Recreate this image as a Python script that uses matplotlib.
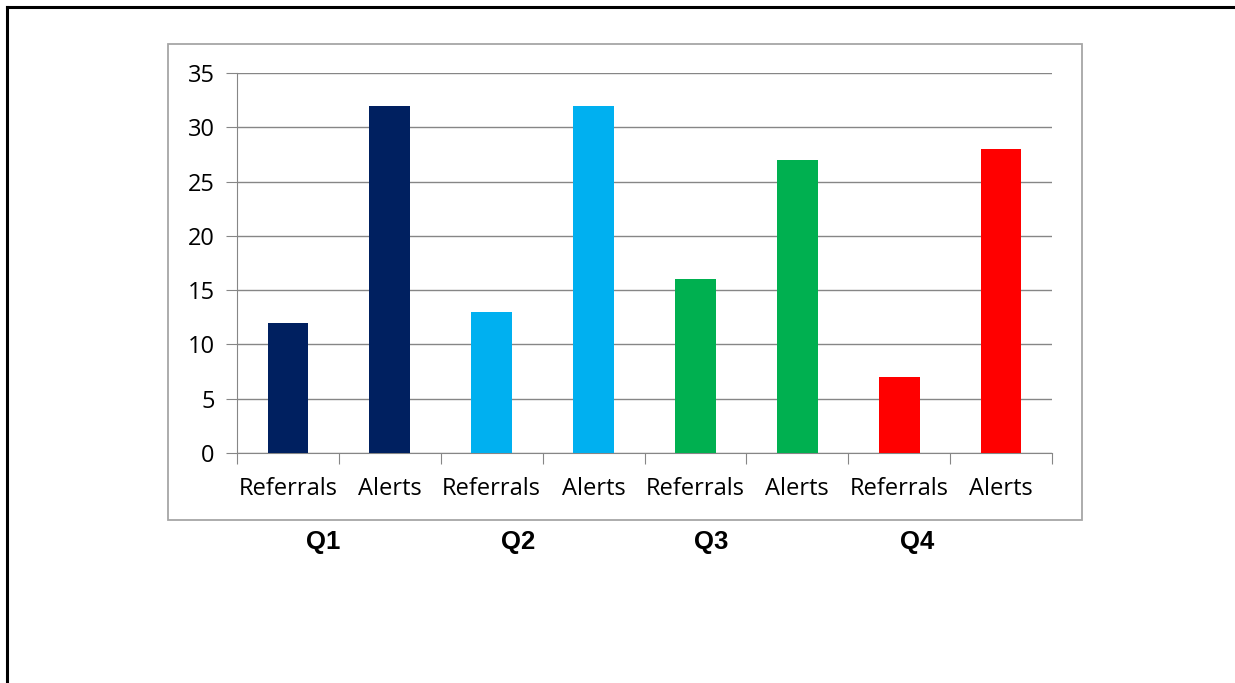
import matplotlib.pyplot as plt
from matplotlib.lines import Line2D
from matplotlib.patches import Rectangle
import numpy as np

# data
categories = ['Referrals', 'Alerts'] * 4
values = [12, 32, 13, 32, 16, 27, 7, 28]
quarters = ['Q1', 'Q2', 'Q3', 'Q4']
colours = ['#002060', '#002060', '#00B0F0', '#00B0F0',
           '#00B050', '#00B050', '#FF0000', '#FF0000']
yticks = [0, 5, 10, 15, 20, 25, 30, 35]

W, H = 1235, 683
fig = plt.figure(figsize=(W / 100, H / 100), dpi=100)

def fx(px):
    return px / W

def fy(py):
    return 1 - py / H

# outer frame (top and left only)
fig.add_artist(Line2D([fx(7), fx(7)], [fy(7), 0], color='black', lw=2.2))
fig.add_artist(Line2D([fx(7), 1], [fy(7), fy(7)], color='black', lw=2.2))

# chart box
fig.add_artist(Rectangle((fx(168), fy(520)), fx(1082) - fx(168), fy(44) - fy(520),
                         fill=False, edgecolor='#A6A6A6', lw=1.3))

ax = fig.add_axes([fx(237), fy(453), fx(1052) - fx(237), fy(73) - fy(453)])
x = np.arange(len(values)) + 0.5
ax.bar(x, values, width=0.4, color=colours, zorder=3)

ax.set_xlim(0, 8)
ax.set_ylim(0, 35)
ax.set_yticks(yticks)
ax.yaxis.grid(True, color='#868686', lw=1)
ax.set_axisbelow(True)

ax.set_xticks(np.arange(0, 9))
ax.set_xticklabels([])
ax.set_xticks(x, minor=True)
ax.set_xticklabels(categories, minor=True)
ax.tick_params(axis='x', which='minor', length=0, pad=17)
ax.tick_params(axis='x', which='major', length=8, color='#868686')
ax.tick_params(axis='y', length=8, color='#868686', pad=8)
for lbl in ax.get_xticklabels(minor=True) + ax.get_yticklabels():
    lbl.set_fontfamily('Open Sans')
    lbl.set_fontsize(17)

for s in ['top', 'right']:
    ax.spines[s].set_visible(False)
for s in ['left', 'bottom']:
    ax.spines[s].set_color('#868686')

q_pos = [323, 518, 711, 917]
for q, px in zip(quarters, q_pos):
    fig.text(fx(px), fy(542), q, ha='center', va='center',
             fontfamily='Liberation Sans', fontweight='bold', fontsize=18.5)

fig.savefig('out.png', dpi=100)
